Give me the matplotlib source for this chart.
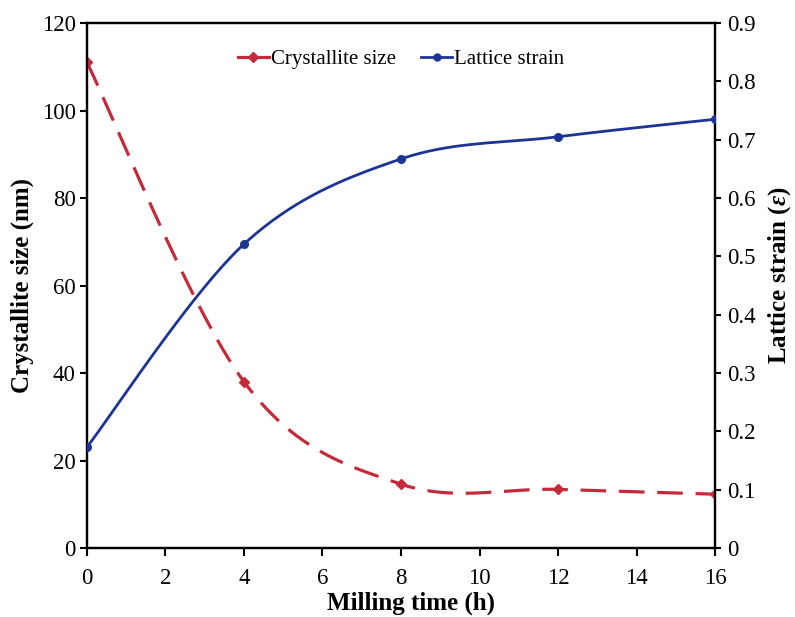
import matplotlib
matplotlib.use("Agg")
import matplotlib.pyplot as plt
from matplotlib.lines import Line2D
import numpy as np

milling_time = [0, 4, 8, 12, 16]
crystallite_size = [111, 38, 14.6, 13.4, 12.3]
lattice_strain = [0.173, 0.521, 0.667, 0.705, 0.735]

plt.rcParams["font.family"] = "Liberation Serif"
plt.rcParams["mathtext.fontset"] = "custom"
plt.rcParams["mathtext.it"] = "Liberation Serif:italic:bold"
plt.rcParams["mathtext.rm"] = "Liberation Serif:bold"


def smooth(x, y, n=40):
    # catmull-rom style smoothing, like a spreadsheet "smoothed line"
    x = np.asarray(x, float)
    y = np.asarray(y, float)
    px = np.concatenate([[x[0]], x, [x[-1]]])
    py = np.concatenate([[y[0]], y, [y[-1]]])
    xs, ys = [], []
    t = np.linspace(0, 1, n)
    for i in range(1, len(px) - 2):
        p0 = np.array([px[i], py[i]])
        p3 = np.array([px[i + 1], py[i + 1]])
        c1 = p0 + (p3 - np.array([px[i - 1], py[i - 1]])) / 6
        c2 = p3 - (np.array([px[i + 2], py[i + 2]]) - p0) / 6
        b = ((1 - t) ** 3)[:, None] * p0 + (3 * (1 - t) ** 2 * t)[:, None] * c1 \
            + (3 * (1 - t) * t ** 2)[:, None] * c2 + (t ** 3)[:, None] * p3
        xs.extend(b[:, 0])
        ys.extend(b[:, 1])
    return np.array(xs), np.array(ys)


red = "#c42a3a"
blue = "#1c3494"

fig = plt.figure(figsize=(7.95, 6.17), dpi=100)
ax = fig.add_axes([0.1094, 0.1118, 0.79, 0.8509])
ax2 = ax.twinx()

sx, sy = smooth(milling_time, crystallite_size)
ax.plot(sx, sy, color=red, lw=2.3, dashes=(8, 4), zorder=3)
ax.plot(milling_time, crystallite_size, ls="none", marker="D", ms=5, color=red, zorder=4)

lx, ly = smooth(milling_time, lattice_strain)
ax2.plot(lx, ly, color=blue, lw=2.0, zorder=3)
ax2.plot(milling_time, lattice_strain, ls="none", marker="o", ms=5.5, color=blue, zorder=4)

ax.set_xlim(0, 16)
ax.set_ylim(0, 120)
ax2.set_ylim(0, 0.9)
ax.set_xticks(range(0, 17, 2))
ax.set_yticks(range(0, 121, 20))
ax2.set_yticks(np.arange(0, 0.91, 0.1))
ax2.set_yticklabels(["0"] + [f"{v:.1f}" for v in np.arange(0.1, 0.91, 0.1)])

for a in (ax, ax2):
    for s in a.spines.values():
        s.set_linewidth(1.6)
    a.tick_params(direction="out", length=5, width=1.5, labelsize=16.5, pad=3)
ax.tick_params(axis="x", length=5.5, pad=9)
ax2.tick_params(axis="y", length=4, pad=5)

ax.set_xlabel("Milling time (h)", fontsize=18, fontweight="bold")
ax.set_ylabel("Crystallite size (nm)", fontsize=18, fontweight="bold")
ax2.set_ylabel(r"Lattice strain ($\varepsilon$)", fontsize=18, fontweight="bold")
ax.xaxis.set_label_coords(0.516, -0.105)
ax.xaxis.label.set_va("center")
ax.yaxis.set_label_coords(-0.1035, 0.50)
ax.yaxis.label.set_va("center")
ax2.yaxis.set_label_coords(1.103, 0.52)
ax2.yaxis.label.set_va("center")

handles = [
    Line2D([], [], color=red, lw=2.3, marker="D", ms=5),
    Line2D([], [], color=blue, lw=2.0, marker="o", ms=5),
]
ax.legend(handles, ["Crystallite size", "Lattice strain"], loc="center",
          bbox_to_anchor=(0.5, 0.931), ncol=2, frameon=False, fontsize=15,
          handlelength=1.5, handletextpad=0.1, columnspacing=1.2)

fig.savefig("out.png", dpi=100)
